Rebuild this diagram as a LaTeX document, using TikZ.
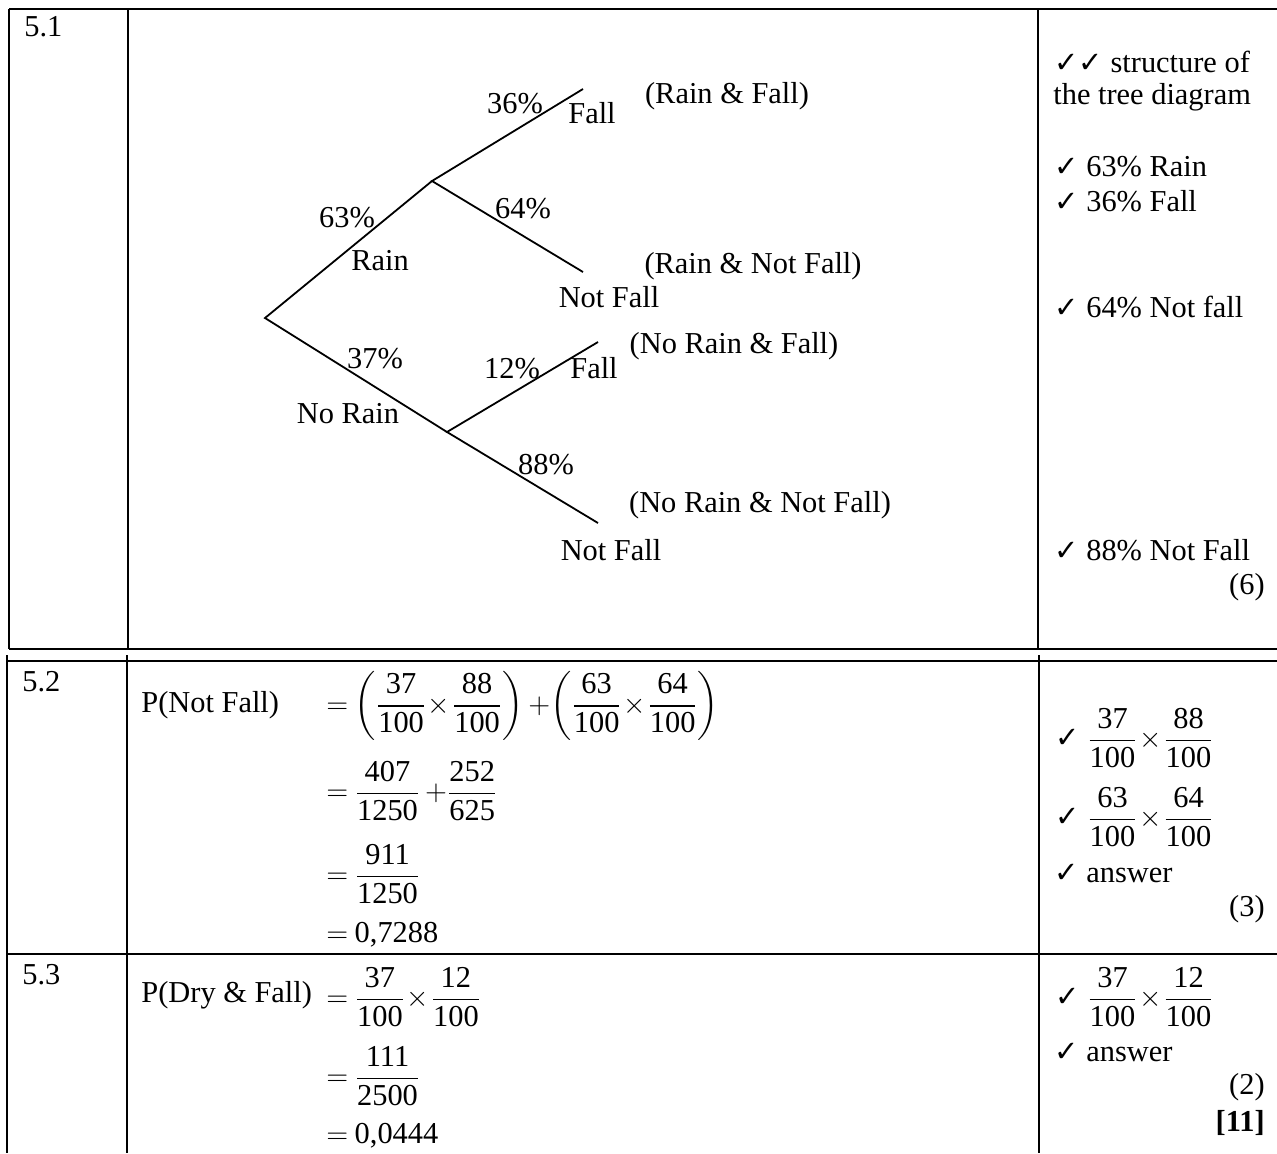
\documentclass[tikz,border=0pt]{standalone}
\usepackage{amsmath}
\usepackage{fontspec}
\setmainfont{Liberation Serif}
\newfontfamily\symfont{DejaVu Sans}
% compact fraction with text-font digits
\newcommand\fr[2]{\dfrac{\text{#1}}{\text{#2}}}
\newcommand\tm{\mspace{1mu}{\times}\mspace{1mu}}
\newcommand\pl{\mspace{3mu}{+}}
\newcommand\eq{{=}\mspace{4mu}}
\newcommand\pa[1]{{\left(#1\right)}}
\newcommand\ck{{\symfont\fontsize{14.5}{16}\selectfont ✓}}
\begin{document}
\begin{tikzpicture}[x=0.5pt,y=-0.5pt,
  every node/.style={inner sep=0pt,font=\fontsize{15.2}{18}\selectfont},
  rule/.style={line width=1.25pt},
  branch/.style={line width=0.9pt},
  lbl/.style={anchor=center},
  lft/.style={anchor=west},
  rgt/.style={anchor=east}]
\useasboundingbox (0,0) rectangle (1277,1153);

% table rules
\draw[rule] (9,9) -- (1277,9);
\draw[rule] (9,9) -- (9,649);
\draw[rule] (128,9) -- (128,649);
\draw[rule] (1038,9) -- (1038,649);
\draw[rule] (9,649) -- (1277,649);
\draw[rule] (7,661) -- (1277,661);
\draw[rule] (7,655) -- (7,1153);
\draw[rule] (127,655) -- (127,1153);
\draw[rule] (1039,655) -- (1039,1153);
\draw[rule] (7,954) -- (1277,954);

% question numbers
\node[lft] (q1) at (24,27) {5.1};
\node[lft] (q2) at (22,682) {5.2};
\node[lft] (q3) at (22,975) {5.3};

% tree diagram
\coordinate (root) at (265,318);
\coordinate (rain) at (432,181);
\coordinate (norain) at (447,432);
\coordinate (rf) at (583,89);
\coordinate (rnf) at (583,272);
\coordinate (nf) at (598,342);
\coordinate (nnf) at (598,523);
\draw[branch] (rain) -- (root) -- (norain);
\draw[branch] (rf) -- (rain) -- (rnf);
\draw[branch] (nf) -- (norain) -- (nnf);

\node[lbl] (p36) at (515,104) {36\%};
\node[lbl] (lfall1) at (592,113) {Fall};
\node[lbl] (orf) at (727,96) {(Rain \& Fall)};
\node[lbl] (p63) at (347,218) {63\%};
\node[lbl] (lrain) at (380,261) {Rain};
\node[lbl] (p64) at (523,209) {64\%};
\node[lbl] (lnf1) at (609,297) {Not Fall};
\node[lbl] (ornf) at (753,266) {(Rain \& Not Fall)};
\node[lbl] (p37) at (375,359) {37\%};
\node[lbl] (lnorain) at (348,414) {No Rain};
\node[lbl] (p12) at (512,369) {12\%};
\node[lbl] (lfall2) at (594,368) {Fall};
\node[lbl] (onf) at (734,346) {(No Rain \& Fall)};
\node[lbl] (p88) at (546,465) {88\%};
\node[lbl] (onnf) at (760,505) {(No Rain \& Not Fall)};
\node[lbl] (lnf2) at (611,550) {Not Fall};

% marks for 5.1
\node[lft] (m1a) at (1054,62) {\ck\ck\ structure of};
\node[lft] (m1b) at (1053,97) {the tree diagram};
\node[lft] (m1c) at (1054,167) {\ck\ 63\% Rain};
\node[lft] (m1d) at (1054,201) {\ck\ 36\% Fall};
\node[lft] (m1e) at (1054,307) {\ck\ 64\% Not fall};
\node[lft] (m1f) at (1054,550) {\ck\ 88\% Not Fall};
\node[rgt] (m1g) at (1265,587) {(6)};

% 5.2
\node[lft] (pnf) at (141,705) {P(Not Fall)};
\node[lft] (e1) at (326,706) {$\eq\pa{\fr{37}{100}\tm\fr{88}{100}}\pl\pa{\fr{63}{100}\tm\fr{64}{100}}$};
\node[lft] (e2) at (326,791) {$\eq\fr{407}{1250}\pl\fr{252}{625}$};
\node[lft] (e3) at (326,874) {$\eq\fr{911}{1250}$};
\node[lft] (e4) at (326,935) {$\eq$0,7288};

\node[lft] (m2a) at (1055,738) {\ck\ $\fr{37}{100}\tm\fr{88}{100}$};
\node[lft] (m2b) at (1055,817) {\ck\ $\fr{63}{100}\tm\fr{64}{100}$};
\node[lft] (m2c) at (1054,873) {\ck\ answer};
\node[rgt] (m2d) at (1265,909) {(3)};

% 5.3
\node[lft] (pdf) at (141,995) {P(Dry \& Fall)};
\node[lft] (f1) at (326,997) {$\eq\fr{37}{100}\tm\fr{12}{100}$};
\node[lft] (f2) at (326,1076) {$\eq\fr{111}{2500}$};
\node[lft] (f3) at (326,1136) {$\eq$0,0444};

\node[lft] (m3a) at (1055,997) {\ck\ $\fr{37}{100}\tm\fr{12}{100}$};
\node[lft] (m3b) at (1054,1052) {\ck\ answer};
\node[rgt] (m3c) at (1265,1087) {(2)};
\node[rgt] (m3d) at (1265,1123) {\textbf{[11]}};
\end{tikzpicture}
\end{document}
